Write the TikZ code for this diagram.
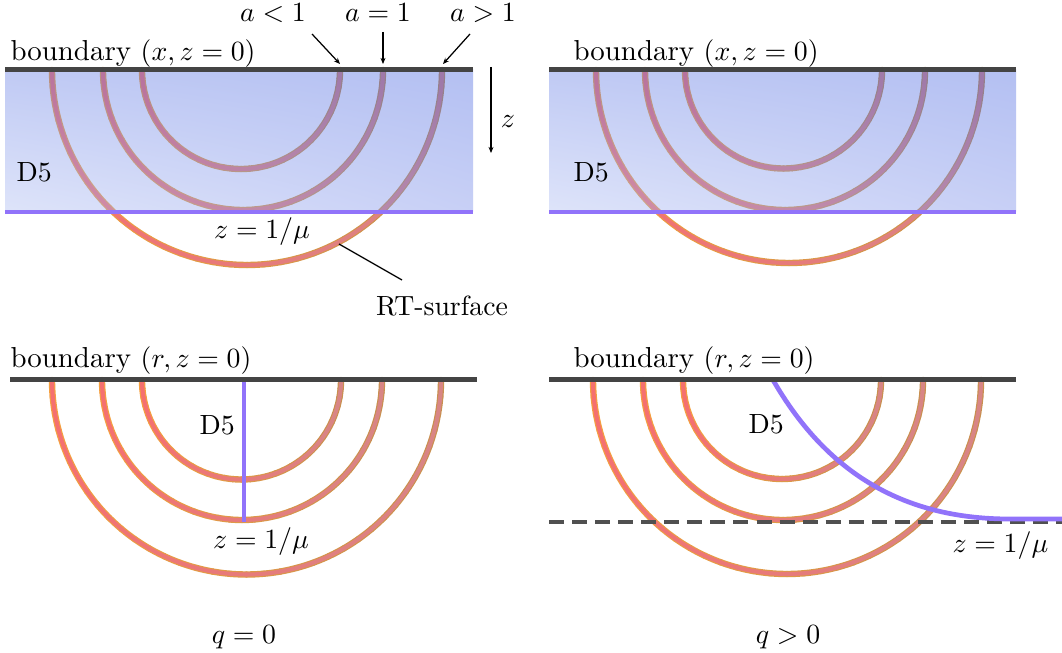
\documentclass[tikz,border=0pt]{standalone}
\usetikzlibrary{arrows.meta,shadings}
\definecolor{bnd}{RGB}{68,68,68}
\definecolor{dfive}{RGB}{145,115,250}
\definecolor{orL}{RGB}{245,160,64}
\definecolor{orR}{RGB}{200,144,80}
\definecolor{pkL}{RGB}{245,112,112}
\definecolor{pkR}{RGB}{216,133,133}
\definecolor{bUL}{RGB}{98,123,228}
\definecolor{bUR}{RGB}{68,98,223}
\definecolor{bLL}{RGB}{173,188,243}
\definecolor{bLR}{RGB}{118,138,233}
\definecolor{dsh}{RGB}{80,80,80}
% one pass of an RT arc: centre x, centre y, radius, left colour, right colour, width
\newcommand\rtpass[6]{%
  \foreach \k in {0,...,35}{%
    \pgfmathsetmacro\aa{180-5*\k}%
    \pgfmathsetmacro\ab{175-5*\k}%
    \pgfmathtruncatemacro\pp{100*(1-cos(\aa-2.5))/2}%
    \draw[line width=#6, line cap=round, color=#4!\pp!#5]
      plot[domain=\aa:\ab, samples=4, smooth] ({#1+#3*cos(\x)},{#2+#3*sin(\x)});
  }%
}
\newcommand\rtset[7]{% cx1 cx2 cx3 cy r1 r2 r3
  \rtpass{#1}{#4}{#5}{orL}{orR}{2.3pt}\rtpass{#2}{#4}{#6}{orL}{orR}{2.3pt}\rtpass{#3}{#4}{#7}{orL}{orR}{2.3pt}%
  \rtpass{#1}{#4}{#5}{pkL}{pkR}{1.45pt}\rtpass{#2}{#4}{#6}{pkL}{pkR}{1.45pt}\rtpass{#3}{#4}{#7}{pkL}{pkR}{1.45pt}%
}
\tikzset{
  lbl/.style={inner sep=0pt, font=\fontsize{10}{12}\selectfont},
  blbl/.style={inner sep=0pt, font=\fontsize{10.4}{12}\selectfont},
  bline/.style={draw=bnd, line width=1.45pt},
  dline/.style={draw=dfive, line width=1.5pt},
  arr/.style={draw=black, line width=0.45pt, -{Stealth[length=2.2pt, width=1.8pt]}},
  thin/.style={draw=black, line width=0.45pt},
  blue/.style={opacity=0.4, upper left=bUL, upper right=bUR, lower left=bLL, lower right=bLR},
}
\begin{document}
\begin{tikzpicture}[x=0.36pt, y=-0.36pt]
\useasboundingbox (0,0) rectangle (1062,653);
\fill[white] (0,0) rectangle (1062,653);

% ---------------- top left ----------------
\rtset{247}{243}{241}{70}{195}{140}{99}
\shade[blue] (5,70) rectangle (473,212);
\coordinate (tlD0) at (5,212); \coordinate (tlD1) at (473,212);
\draw[dline] (tlD0) -- (tlD1);
\coordinate (tlB0) at (5,69.5); \coordinate (tlB1) at (473,69.5);
\draw[bline] (tlB0) -- (tlB1);
\node[blbl, anchor=base west] (tlbound) at (10,61) {boundary $(x,z=0)$};
\node[lbl, anchor=base] (alt) at (273,22) {$a<1$};
\node[lbl, anchor=base] (aeq) at (378,22) {$a=1$};
\node[lbl, anchor=base] (agt) at (483,22) {$a>1$};
\coordinate (altS) at (312,34); \coordinate (altE) at (340,64);
\coordinate (aeqS) at (383,32); \coordinate (aeqE) at (383,64);
\coordinate (agtS) at (470,34); \coordinate (agtE) at (443,64);
\draw[arr] (altS) -- (altE);
\draw[arr] (aeqS) -- (aeqE);
\draw[arr] (agtS) -- (agtE);
\coordinate (zS) at (491,67); \coordinate (zE) at (491,153);
\draw[arr] (zS) -- (zE);
\node[lbl, anchor=base] (zlab) at (508,128) {$z$};
\node[lbl, anchor=base west] (tlD5) at (16,182) {D5};
\node[lbl, anchor=base] (tlmu) at (262,239) {$z=1/\mu$};
\node[lbl, anchor=base] (rt) at (442,315) {RT-surface};
\coordinate (rtS) at (339,244); \coordinate (rtE) at (402,280);
\draw[thin] (rtS) -- (rtE);

% ---------------- top right ----------------
\rtset{789}{785}{783.5}{70}{193}{140}{98.5}
\shade[blue] (549,70) rectangle (1016,212);
\coordinate (trD0) at (549,212); \coordinate (trD1) at (1016,212);
\draw[dline] (trD0) -- (trD1);
\coordinate (trB0) at (549,69.5); \coordinate (trB1) at (1016,69.5);
\draw[bline] (trB0) -- (trB1);
\node[blbl, anchor=base west] (trbound) at (573,61) {boundary $(x,z=0)$};
\node[lbl, anchor=base west] (trD5) at (573,182) {D5};

% ---------------- bottom left ----------------
\rtset{246.5}{242}{241.5}{380}{194.5}{140}{99.5}
\coordinate (blV0) at (244,380); \coordinate (blV1) at (244,522);
\draw[dline] (blV0) -- (blV1);
\coordinate (blB0) at (10,379.5); \coordinate (blB1) at (477,379.5);
\draw[bline] (blB0) -- (blB1);
\node[blbl, anchor=base west] (blbound) at (10,367) {boundary $(r,z=0)$};
\node[lbl, anchor=base west] (blD5) at (199,434) {D5};
\node[lbl, anchor=base] (blmu) at (261,548) {$z=1/\mu$};
\node[lbl, anchor=base] (q0) at (244,643) {$q=0$};

% ---------------- bottom right ----------------
\rtset{787}{783}{782}{380}{194}{140}{99}
\coordinate (brH0) at (549,522); \coordinate (brH1) at (1062,522);
\draw[draw=dsh, line width=1.3pt, dash pattern=on 5.4pt off 2.9pt] (brH0) -- (brH1);
\coordinate (brC0) at (773,380); \coordinate (brC1) at (1010,519); \coordinate (brC2) at (1062,519);
\draw[dline, line width=1.7pt] (brC0) .. controls (825,470) and (900,519) .. (brC1) -- (brC2);
\coordinate (brB0) at (549,379.5); \coordinate (brB1) at (1016,379.5);
\draw[bline] (brB0) -- (brB1);
\node[blbl, anchor=base west] (brbound) at (573,367) {boundary $(r,z=0)$};
\node[lbl, anchor=base west] (brD5) at (748,433) {D5};
\node[lbl, anchor=base west] (brmu) at (952,552) {$z=1/\mu$};
\node[lbl, anchor=base] (qg) at (788,643) {$q>0$};
\end{tikzpicture}
\end{document}
